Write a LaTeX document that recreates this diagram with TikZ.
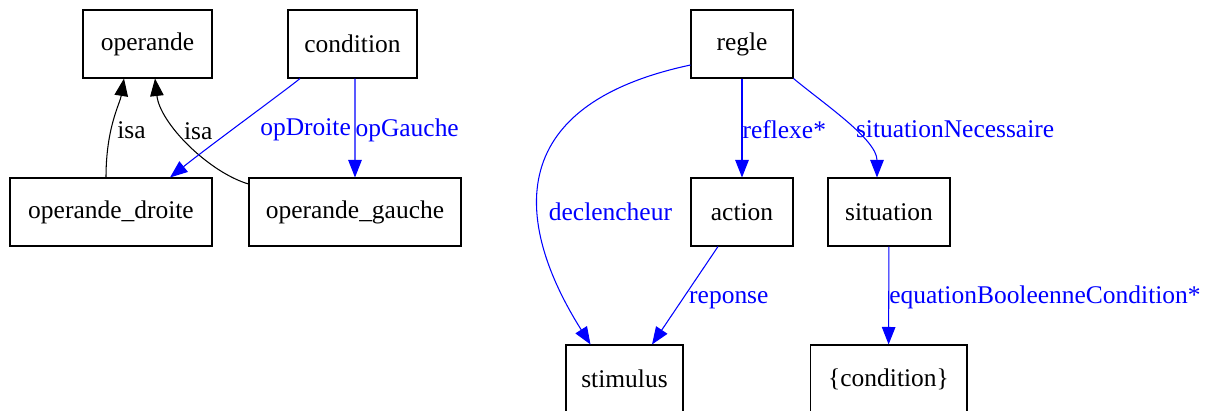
\documentclass[tikz,border=0pt]{standalone}
\usepackage{fontspec}
\setmainfont{Liberation Serif}
\usetikzlibrary{arrows.meta}

\begin{document}
\begin{tikzpicture}[x=0.02cm, y=-0.02cm,
    box/.style={draw, line width=0.6pt, inner sep=0pt, minimum height=1.36cm, font=\fontsize{14.5}{17}\selectfont},
    isa/.style={line width=0.6pt, -{Triangle[length=3.5mm, width=2.7mm]}},
    rel/.style={isa, blue},
    lbl/.style={inner sep=0pt, anchor=west, font=\fontsize{14.5}{17}\selectfont}]

    \useasboundingbox (0, 0) rectangle (1213, 410);

    % left part
    \node [box, minimum width=2.58cm] (operande) at (147.5, 44) {operande};
    \node [box, minimum width=2.58cm] (condition) at (352.5, 44) {condition};
    \node [box, minimum width=4.04cm] (droite) at (111, 212) {operande\_droite};
    \node [box, minimum width=4.24cm] (gauche) at (355, 212) {operande\_gauche};

    \draw[isa] ([xshift=-0.1cm]droite.north) .. controls +(0, -50) and +(-4, 25) .. ([xshift=-0.47cm]operande.south) node [lbl, pos=0.38, xshift=0.12cm] {isa};
    \draw[isa] ([yshift=0.56cm]gauche.west) .. controls +(-40, -12) and +(5, 45) .. ([xshift=0.15cm]operande.south) node [lbl, pos=0.6, xshift=0.1cm] {isa};
    \draw[rel] ([xshift=-1.05cm]condition.south) .. controls +(-12, 10) and +(40, -32) .. ([xshift=1.18cm]droite.north) node [lbl, blue, pos=0.58, xshift=0.54cm] {opDroite};
    \draw[rel] ([xshift=0.05cm]condition.south) -- (gauche) node [lbl, blue, pos=0.52] {opGauche};

    % right part
    \node [box, minimum width=2.04cm] (regle) at (742, 44) {regle};
    \node [box, minimum width=2.04cm] (action) at (742, 212) {action};
    \node [box, minimum width=2.44cm] (situation) at (889, 212) {situation};
    \node [box, minimum width=2.34cm] (stimulus) at (624.5, 379) {stimulus};
    \node [box, minimum width=3.14cm] (condset) at (888.5, 379) {\{condition\}};

    \draw[rel] ([yshift=-0.42cm]regle.west) .. controls +(-211, 45) and +(-60, -95) .. ([xshift=-0.68cm]stimulus.north) node [lbl, blue, pos=0.58, xshift=0.2cm] {declencheur};
    \draw[rel] (regle) -- (action) node [lbl, blue, pos=0.52] {reflexe*};
    \draw[rel] (regle.south east) .. controls +(30, 25) and +(0, -38) .. ([xshift=-0.24cm]situation.north) node [lbl, blue, pos=0.56, xshift=0.06cm] {situationNecessaire};
    \draw[rel] ([xshift=-0.48cm]action.south) -- ([xshift=0.55cm]stimulus.north) node [lbl, blue, pos=0.55, xshift=0.14cm] {reponse};
    \draw[rel] (situation) -- (condset) node [lbl, blue, pos=0.52] {equationBooleenneCondition*};

\end{tikzpicture}
\end{document}
